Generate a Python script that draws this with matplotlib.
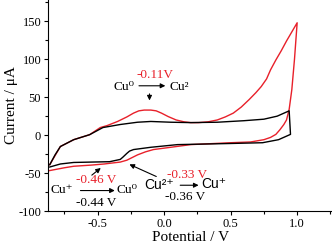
import numpy as np
import matplotlib
matplotlib.use('Agg')
from matplotlib import pyplot as plt

plt.rcParams['font.family'] = ['Liberation Serif', 'DejaVu Serif']
plt.rcParams['axes.unicode_minus'] = False

# red CV (with Cu)
redV = [-0.87, -0.75, -0.68, -0.55, -0.45, -0.38, -0.33, -0.28, -0.24, -0.2, -0.14, -0.08, 0.05,
        0.2, 0.5, 0.65, 0.75, 0.80, 0.84, 0.87, 0.90, 0.92, 0.94, 0.96, 0.98, 1.0,
        0.96, 0.92, 0.88, 0.84, 0.80, 0.77, 0.73, 0.69, 0.64, 0.58, 0.52, 0.46, 0.40, 0.33,
        0.26, 0.2, 0.15, 0.09, 0.03, -0.02, -0.06, -0.1, -0.15, -0.19, -0.23, -0.28, -0.35,
        -0.43, -0.48, -0.56, -0.68, -0.78, -0.86]
redI = [-47, -43, -41, -39.5, -38, -36.5, -35.5, -33, -29.5, -26, -22, -19, -16,
        -12.5, -10, -9, -6, -3, 1, 7, 14, 20, 34, 60, 100, 148,
        136, 124, 111, 99, 86, 74, 64, 56, 47, 37, 29, 24, 20, 17.5,
        16.5, 16.5, 17.5, 20, 24.5, 29, 32, 33, 33, 32, 29, 24, 18,
        12.5, 10, 0.6, -6, -15, -39]

# black CV (blank)
blackV = [-0.86, -0.82, -0.78, -0.68, -0.56, -0.46, -0.33, -0.2, -0.1, 0.05, 0.2,
          0.4, 0.6, 0.75, 0.85, 0.94, 0.95, 0.86, 0.74, 0.5, 0.1, -0.1, -0.23, -0.26,
          -0.28, -0.31, -0.33, -0.41, -0.55, -0.68, -0.78, -0.86]
blackI = [-39, -26, -15, -6, 0.6, 10, 14, 17, 18, 17, 16.5,
          17, 19, 21, 25, 32, 1, -6, -10, -11, -12.5, -16, -19, -21,
          -24, -29, -32, -35, -35.5, -36, -38, -42]

red = '#e8202a'

fig = plt.figure(figsize=(3.32, 2.48), dpi=100)
ax = fig.add_axes([0.145, 0.149, 0.855, 0.851])
ax.plot(redV, redI, color=red, lw=1.0)
ax.plot(blackV, blackI, color='black', lw=1.0)

ax.set_xlim(-0.872, 1.262)
ax.set_ylim(-100, 178)
ax.set_xticks([-0.5, 0.0, 0.5, 1.0])
ax.set_xticks([-0.75, -0.25, 0.25, 0.75, 1.25], minor=True)
ax.set_yticks([-100, -50, 0, 50, 100, 150])
ax.set_yticks([-75, -25, 25, 75, 125, 175], minor=True)
ax.tick_params(direction='out', length=3, width=0.8, labelsize=9, pad=2)
ax.tick_params(which='minor', direction='out', length=2, width=0.8)
ax.spines['top'].set_visible(False)
ax.spines['right'].set_visible(False)
ax.set_xlabel('Potential / V', fontsize=11, labelpad=1)
ax.set_ylabel('Current / μA', fontsize=11, labelpad=0)

arr = dict(arrowstyle='-|>', color='black', lw=0.8, mutation_scale=7)
sans = ['Liberation Sans', 'DejaVu Sans']

# top annotation
ax.text(-0.30, 64, 'Cu⁰', fontsize=9.5, ha='center', va='center')
ax.annotate('', xy=(0.03, 65), xytext=(-0.21, 65), arrowprops=arr)
ax.text(0.11, 64, 'Cu²', fontsize=9.5, ha='center', va='center')
ax.text(-0.07, 79, '-0.11V', fontsize=9.5, ha='center', va='center', color=red)
ax.annotate('', xy=(-0.11, 42), xytext=(-0.11, 58), arrowprops=arr)

# bottom left annotation
ax.text(-0.77, -72, 'Cu⁺', fontsize=9.5, ha='center', va='center')
ax.annotate('', xy=(-0.35, -73), xytext=(-0.65, -73), arrowprops=arr)
ax.text(-0.28, -72, 'Cu⁰', fontsize=9.5, ha='center', va='center')
ax.text(-0.51, -59, '-0.46 V', fontsize=9.5, ha='center', va='center', color=red)
ax.text(-0.51, -89, '-0.44 V', fontsize=9.5, ha='center', va='center')
ax.annotate('', xy=(-0.46, -41), xytext=(-0.56, -55), arrowprops=arr)

# bottom right annotation
ax.text(-0.04, -66, 'Cu²⁺', fontsize=10, ha='center', va='center', family=sans)
ax.annotate('', xy=(0.28, -66), xytext=(0.10, -66), arrowprops=arr)
ax.text(0.37, -65, 'Cu⁺', fontsize=10, ha='center', va='center', family=sans)
ax.text(0.17, -53, '-0.33 V', fontsize=9.5, ha='center', va='center', color=red)
ax.text(0.16, -81, '-0.36 V', fontsize=9.5, ha='center', va='center')
ax.annotate('', xy=(-0.28, -37), xytext=(-0.04, -56), arrowprops=arr)

fig.savefig('out.png', dpi=100)
